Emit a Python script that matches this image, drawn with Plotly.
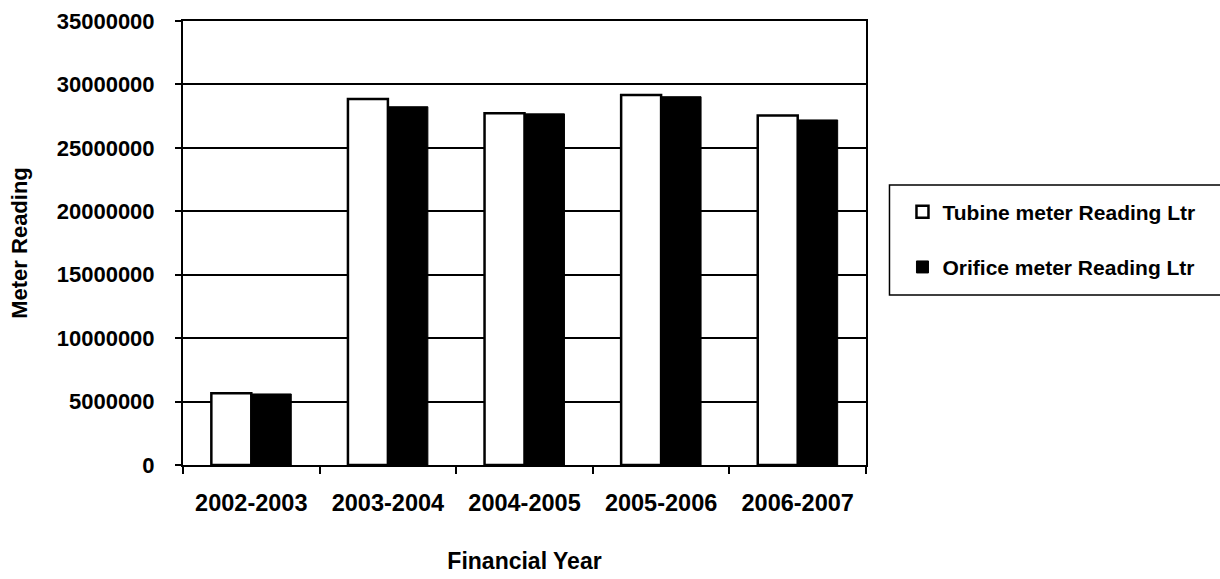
import plotly.graph_objects as go

years = ["2002-2003", "2003-2004", "2004-2005", "2005-2006", "2006-2007"]
tubine = [5650000, 28850000, 27720000, 29170000, 27560000]
orifice = [5600000, 28240000, 27680000, 29030000, 27200000]
names = ["Tubine meter Reading Ltr", "Orifice meter Reading Ltr"]

W, H = 1220, 579
L, R, T, B = 183, 866.5, 21, 465
pw, ph = R - L, B - T

def px(x):
    return (x - L) / pw

def py(y):
    return (B - y) / ph

FONT = "Liberation Sans, Arial, sans-serif"

fig = go.Figure()
fig.add_trace(go.Bar(
    x=years, y=tubine, name=names[0], legendgroup="a",
    marker=dict(color="white", line=dict(color="black", width=2.5)),
))
fig.add_trace(go.Bar(
    x=years, y=orifice, name=names[1], legendgroup="b",
    marker=dict(color="black", line=dict(color="black", width=1)),
))

fig.update_layout(
    width=W, height=H,
    margin=dict(l=L, r=W - R, t=T, b=H - B, autoexpand=False),
    paper_bgcolor="white", plot_bgcolor="white",
    barmode="group", bargap=0.415, bargroupgap=0,
    font=dict(family=FONT, color="black", size=21, weight="bold"),
    showlegend=True,
    legend=dict(
        x=px(903), y=py(191.5), xanchor="left", yanchor="top",
        bgcolor="rgba(0,0,0,0)", borderwidth=0,
        font=dict(family=FONT, size=21, color="black", weight="bold"),
        tracegroupgap=25, traceorder="grouped",
    ),
    shapes=[dict(
        type="rect", xref="paper", yref="paper",
        x0=px(890), x1=px(1235), y0=py(295), y1=py(185),
        line=dict(color="black", width=1.5), fillcolor="rgba(0,0,0,0)",
        layer="below",
    )],
)

fig.update_xaxes(
    showline=True, linecolor="black", linewidth=2, mirror=True,
    ticks="outside", tickson="boundaries", ticklen=7, tickwidth=2, tickcolor="black",
    tickfont=dict(family=FONT, size=23.5, color="black", weight="bold"),
    ticklabelstandoff=16,
    title=dict(text="Financial Year", standoff=38,
               font=dict(family=FONT, size=23, color="black", weight="bold")),
    automargin=False,
)
fig.update_yaxes(
    range=[0, 35000000], dtick=5000000, tickformat="d",
    showline=True, linecolor="black", linewidth=2, mirror=True,
    showgrid=True, gridcolor="black", gridwidth=2,
    ticks="outside", ticklen=6, tickwidth=2, tickcolor="black",
    tickfont=dict(family=FONT, size=22, color="black", weight="bold"),
    ticklabelstandoff=16,
    title=dict(text="Meter Reading", standoff=23,
               font=dict(family=FONT, size=22, color="black", weight="bold")),
    zeroline=False, automargin=False,
)

fig.write_html("out.html")
